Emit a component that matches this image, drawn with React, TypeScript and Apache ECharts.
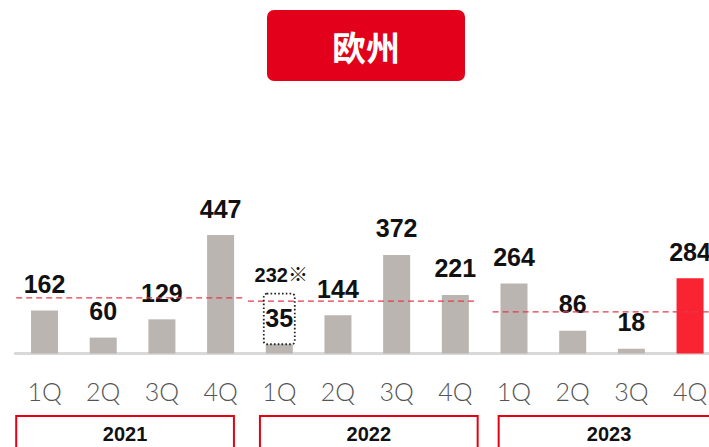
import React, { useEffect, useRef } from "react";
import * as echarts from "echarts";

// ---- data ----
const years = ["2021", "2022", "2023"];
const quarters = ["1Q", "2Q", "3Q", "4Q"];
const categories = years.flatMap((y) => quarters.map((q) => `${y}-${q}`));
const values = [162, 60, 129, 447, 35, 144, 372, 221, 264, 86, 18, 284];
const highlightIndex = 11; // latest quarter, drawn in red
const yearAverages = [210, 198, 157]; // dashed reference lines
// annotation on 2022 1Q: reported 232※ (dotted box)
const noteIndex = 4;
const noteLabel = "232※";
const noteBoxTop = 226;

// ---- layout (pixels, not data) ----
const groupLineOffsets = [
  [1, -5],
  [-2, -8],
  [8, 0],
];
const groupBoxOffsets = [
  [1, -16],
  [10, -7],
  [14, 0],
];
const BAR_W = 27;

export default function App() {
  const ref = useRef<HTMLDivElement>(null);
  useEffect(() => {
    if (!ref.current) return;
    const chart = echarts.init(ref.current, undefined, { renderer: "svg" });
    const groupData = years.map((y, i) => [i * 4, i * 4 + 3, yearAverages[i], i]);
    chart.setOption({
      animation: false,
      grid: {
        left: 15.2,
        width: 704.2,
        top: 194.6,
        bottom: 93.5,
        containLabel: false,
        outerBoundsMode: "none",
      },
      xAxis: {
        type: "category",
        data: categories,
        axisLine: { lineStyle: { color: "#d9d9d9", width: 3 } },
        axisTick: { show: false },
        axisLabel: {
          formatter: (v: string) => v.split("-")[1],
          color: "#555",
          fontFamily: "Lato",
          fontWeight: 300,
          fontSize: 25,
          margin: 25,
          hideOverlap: false,
        },
      },
      yAxis: { type: "value", min: 0, max: 600, show: false, splitLine: { show: false } },
      series: [
        {
          type: "bar",
          barWidth: BAR_W,
          data: values.map((v, i) => ({
            value: v,
            itemStyle: { color: i === highlightIndex ? "#fa2331" : "#bab5b1" },
          })),
          label: {
            show: true,
            position: "top",
            distance: 14,
            color: "#111",
            fontFamily: "Liberation Sans",
            fontWeight: "bold",
            fontSize: 25,
          },
          z: 3,
        },
        {
          type: "custom",
          clip: false,
          z: 4,
          data: groupData,
          renderItem: (params: any, api: any) => {
            const s = api.value(0);
            const e = api.value(1);
            const avg = api.value(2);
            const gi = api.value(3);
            const band = api.size([1, 0])[0];
            const ps = api.coord([s, avg]);
            const pe = api.coord([e, avg]);
            const left = ps[0] - band / 2;
            const right = pe[0] + band / 2;
            const lo = groupLineOffsets[gi];
            const bo = groupBoxOffsets[gi];
            const bx0 = left + bo[0];
            const bx1 = right + bo[1];
            return {
              type: "group",
              children: [
                {
                  type: "line",
                  shape: { x1: left + lo[0], y1: ps[1], x2: right + lo[1], y2: ps[1] },
                  style: { stroke: "#e23a4b", lineWidth: 1.3, lineDash: [6, 4] },
                },
                {
                  type: "rect",
                  shape: { x: bx0, y: 416, width: bx1 - bx0, height: 60 },
                  style: { fill: "#fff", stroke: "#e60012", lineWidth: 2 },
                },
                {
                  type: "text",
                  style: {
                    x: (bx0 + bx1) / 2,
                    y: 434,
                    text: years[gi],
                    align: "center",
                    verticalAlign: "middle",
                    fill: "#111",
                    font: "bold 20px 'Liberation Sans'",
                  },
                },
              ],
            };
          },
        },
        {
          type: "custom",
          clip: false,
          z: 5,
          data: [[noteIndex, values[noteIndex], noteBoxTop]],
          renderItem: (params: any, api: any) => {
            const pb = api.coord([api.value(0), api.value(1)]);
            const pt = api.coord([api.value(0), api.value(2)]);
            const w = BAR_W + 4;
            return {
              type: "group",
              children: [
                {
                  type: "rect",
                  shape: { x: pb[0] - w / 2, y: pt[1], width: w, height: pb[1] - pt[1], r: 3 },
                  style: { fill: "none", stroke: "#222", lineWidth: 1.8, lineDash: [1.6, 2.2] },
                },
                {
                  type: "text",
                  style: {
                    x: pb[0] + 2,
                    y: pt[1] - 19,
                    text: noteLabel,
                    align: "center",
                    verticalAlign: "middle",
                    fill: "#111",
                    font: "bold 20px 'Liberation Sans', 'Noto Sans CJK JP'",
                  },
                },
              ],
            };
          },
        },
      ],
      graphic: [
        {
          type: "group",
          left: 267,
          top: 10,
          children: [
            {
              type: "rect",
              shape: { x: 0, y: 0, width: 198, height: 71, r: 7 },
              style: { fill: "#e2001a" },
            },
            {
              type: "text",
              x: 99,
              y: 36,
              style: {
                text: "欧州",
                align: "center",
                verticalAlign: "middle",
                fill: "#fff",
                font: "bold 34px 'Noto Sans CJK JP'",
              },
            },
          ],
        },
      ],
    });
    return () => chart.dispose();
  }, []);
  return (
    <div
      ref={ref}
      style={{ position: "fixed", left: 0, top: 0, width: 709, height: 447, background: "#fff" }}
    />
  );
}
